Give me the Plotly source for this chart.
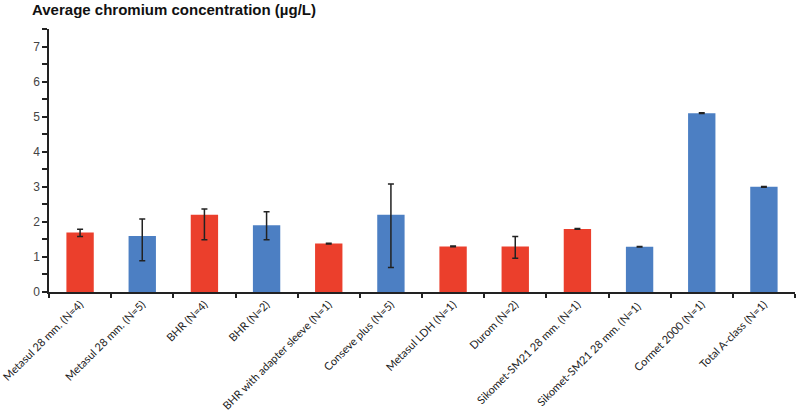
import plotly.graph_objects as go

categories = ["Metasul 28 mm. (N=4)", "Metasul 28 mm. (N=5)", "BHR (N=4)", "BHR (N=2)",
              "BHR with adapter sleeve (N=1)", "Conseve plus (N=5)", "Metasul LDH (N=1)",
              "Durom (N=2)", "Sikomet-SM21 28 mm. (N=1)", "Sikomet-SM21 28 mm. (N=1) ",
              "Cormet 2000 (N=1)", "Total A-class (N=1)"]
values = [1.7, 1.6, 2.2, 1.9, 1.38, 2.2, 1.3, 1.3, 1.8, 1.29, 5.1, 3.0]
err_plus = [0.09, 0.48, 0.17, 0.39, 0.01, 0.88, 0.01, 0.28, 0.01, 0.01, 0.01, 0.01]
err_minus = [0.12, 0.71, 0.71, 0.41, 0.01, 1.5, 0.01, 0.34, 0.01, 0.01, 0.01, 0.01]
groups = ["red", "blue", "red", "blue", "red", "blue", "red", "red", "red", "blue", "blue", "blue"]

color_map = {"red": "#EB3F2C", "blue": "#4C7FC3"}
colors = [color_map[g] for g in groups]

fig = go.Figure()
fig.add_trace(go.Bar(
    x=categories, y=values,
    marker=dict(color=colors, line=dict(width=0)),
    width=0.44,
    error_y=dict(type="data", symmetric=False, array=err_plus, arrayminus=err_minus,
                 color="#222222", thickness=1.5, width=3),
))

fig.update_layout(
    width=800, height=415,
    margin=dict(l=49, r=5, t=29, b=123),
    paper_bgcolor="white", plot_bgcolor="white",
    showlegend=False,
    title=dict(text="Average chromium concentration (µg/L)", x=0.04, xanchor="left",
               y=0.976, yanchor="middle",
               font=dict(family="Liberation Sans", size=15, color="#111111", weight="bold")),
    xaxis=dict(
        type="category", showgrid=False, showline=True, linecolor="#222222", linewidth=1.5,
        ticks="outside", tickson="boundaries", ticklen=4, tickcolor="#222222", tickwidth=1.5,
        tickangle=-45, automargin=False,
        tickfont=dict(family="Lato", size=11, color="#222222"),
        range=[-0.5, 11.5],
    ),
    yaxis=dict(
        range=[0, 7.5], dtick=1, tick0=0, showgrid=False, zeroline=False,
        showline=True, linecolor="#222222", linewidth=1.5,
        ticks="outside", ticklen=5, tickcolor="#222222", tickwidth=1.5,
        tickfont=dict(family="Liberation Sans", size=12, color="#444444"),
        minor=dict(dtick=0.5, ticks="outside", ticklen=5, tickcolor="#222222", tickwidth=1.5),
        automargin=False,
    ),
)

fig.write_html("out.html", config={"displayModeBar": False},
               post_script="document.body.style.margin='0';")
